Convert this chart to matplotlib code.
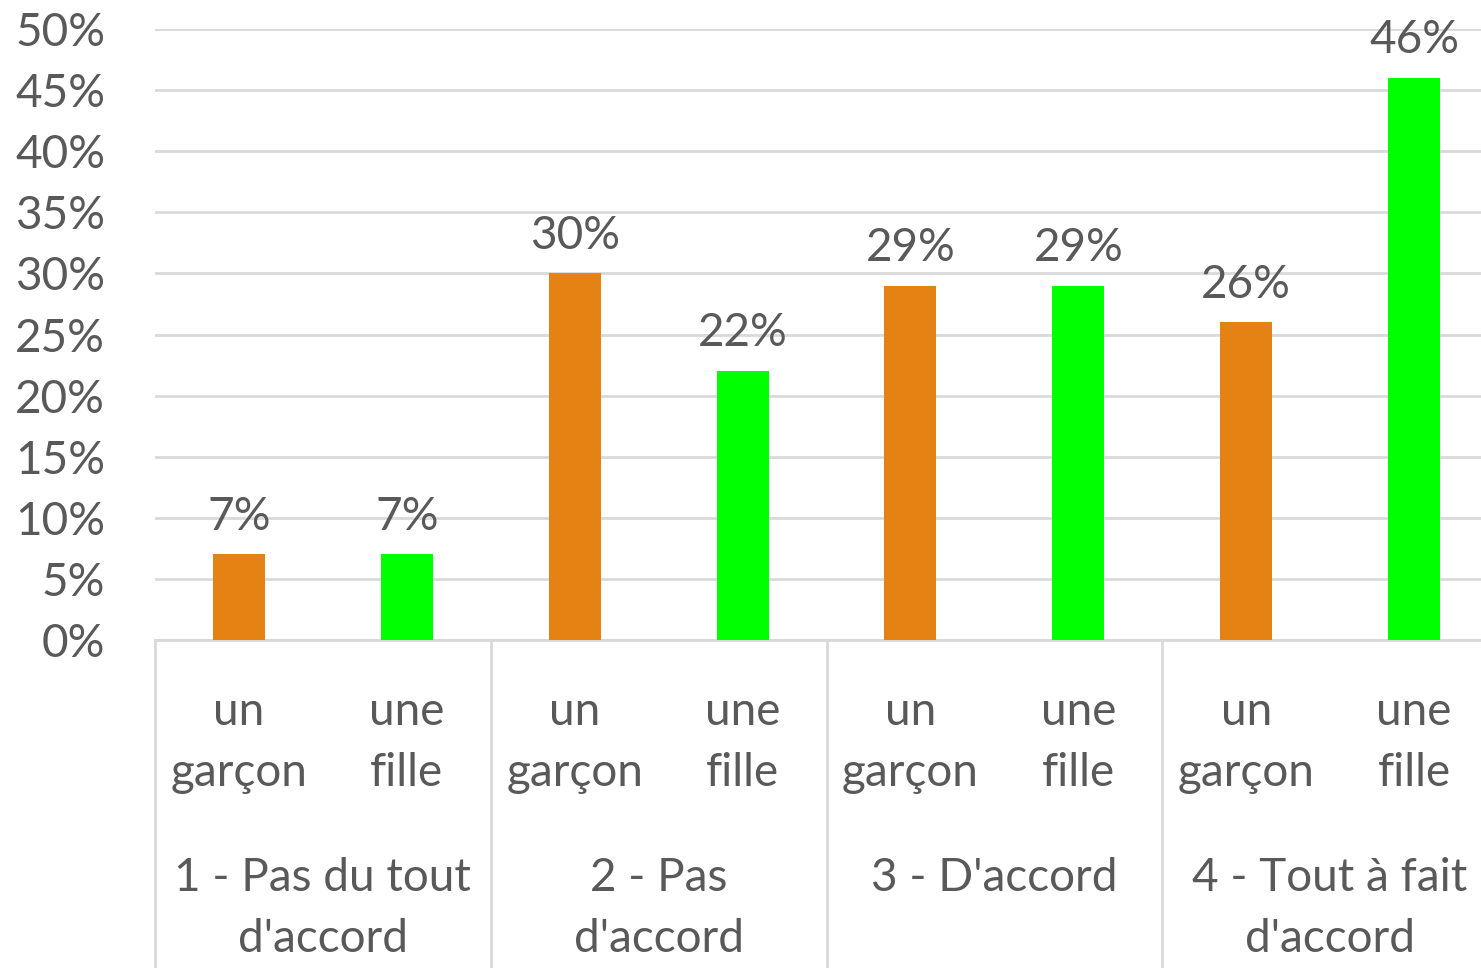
import numpy as np
import matplotlib.pyplot as plt

# data
groups = ["1 - Pas du tout\nd'accord", "2 - Pas\nd'accord", "3 - D'accord\n ", "4 - Tout à fait\nd'accord"]
sub_labels = ["un\ngarçon", "une\nfille"]
values = [7, 7, 30, 22, 29, 29, 26, 46]
colors = ["#E48214", "#00FF00"]

text_col = "#595959"
grid_col = "#D9D9D9"
plt.rcParams['font.family'] = ['Lato', 'DejaVu Sans']

fig = plt.figure(figsize=(14.81, 9.68), dpi=100)
ax = fig.add_axes([155 / 1481, 328 / 968, 1343 / 1481, 611 / 968])

x = np.arange(len(values))
bar_colors = [colors[i % 2] for i in range(len(values))]
ax.bar(x, values, width=0.31, color=bar_colors, zorder=3)

for xi, v in zip(x, values):
    ax.annotate(f"{v}%", (xi, v), xytext=(0, 12), textcoords="offset points",
                ha="center", va="bottom", fontsize=33, color=text_col)

ax.set_xlim(-0.5, len(values) - 0.5)
ax.set_ylim(0, 50)
ax.set_yticks(np.arange(0, 51, 5))
ax.set_yticklabels([f"{t}%" for t in range(0, 51, 5)])
ax.tick_params(axis="y", length=0, labelsize=33, labelcolor=text_col, pad=36)
ax.tick_params(axis="x", length=0, labelbottom=False)
ax.grid(axis="y", color=grid_col, linewidth=2, zorder=0)
for s in ["top", "right", "left"]:
    ax.spines[s].set_visible(False)
ax.spines["bottom"].set_color(grid_col)
ax.spines["bottom"].set_linewidth(2)

# multi-level category labels
tr = ax.get_xaxis_transform()
for xi in x:
    ax.text(xi, -0.168, sub_labels[xi % 2], transform=tr, ha="center", va="center",
            fontsize=33, color=text_col, linespacing=1.55)
for gi, g in enumerate(groups):
    ax.text(2 * gi + 0.5, -0.44, g, transform=tr, ha="center", va="center",
            fontsize=33, color=text_col, linespacing=1.55)
for sx in [-0.5, 1.5, 3.5, 5.5]:
    ax.plot([sx, sx], [0, -0.54], transform=tr, color=grid_col, linewidth=2, clip_on=False)

fig.savefig("out.png", dpi=100)
